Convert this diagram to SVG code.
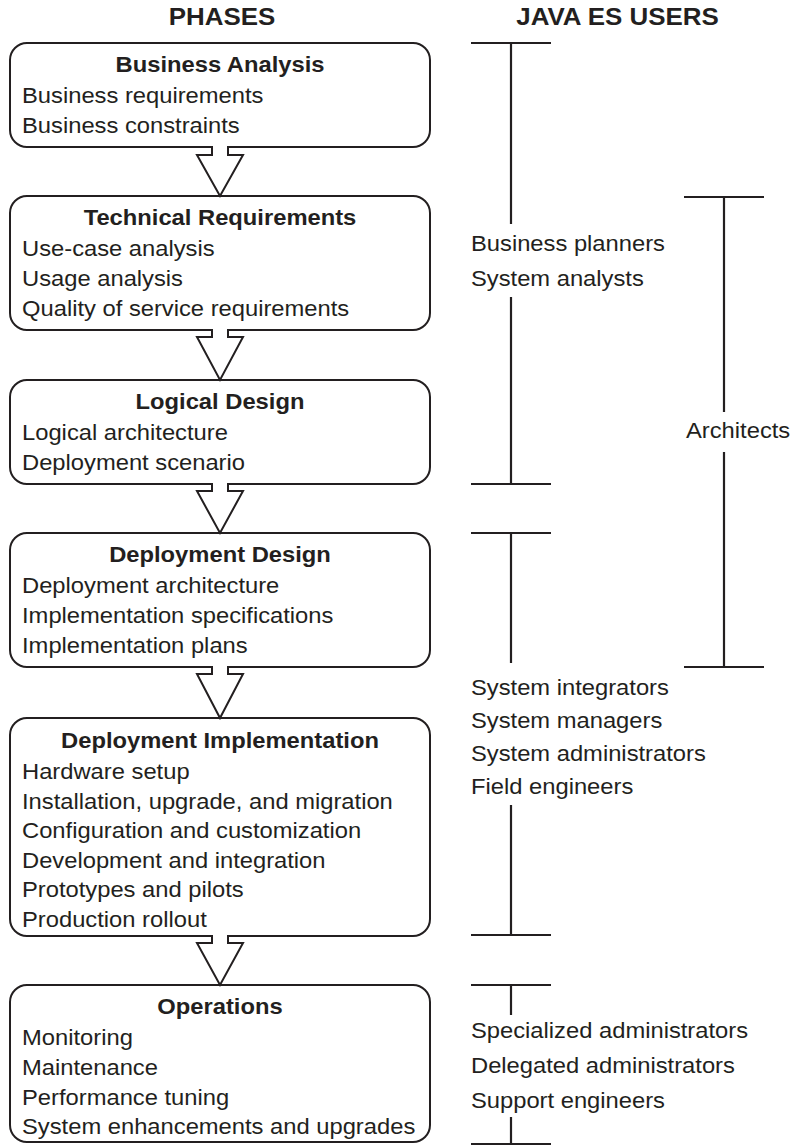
<svg xmlns="http://www.w3.org/2000/svg" width="791" height="1145" viewBox="0 0 791 1145">
<style>
.box{fill:#fff;stroke:#231f20;stroke-width:2}
.arr{fill:#fff;stroke:#231f20;stroke-width:2;stroke-linejoin:miter}
.ln{stroke:#231f20;stroke-width:2.2;fill:none}
.t{font-family:"Liberation Sans",Arial,sans-serif;font-size:22px;fill:#231f20}
.b{font-weight:bold}
.c{text-anchor:middle}
.h{font-family:"Liberation Sans",Arial,sans-serif;font-size:24px;font-weight:bold;fill:#231f20;text-anchor:middle}
</style>
<rect width="791" height="1145" fill="#fff"/>
<g id="headers" transform="scale(1.08 1)">
<text class="h" x="205.6" y="25">PHASES</text>
<text class="h" x="571.8" y="25">JAVA ES USERS</text>
</g>
<g id="business-analysis">
<rect class="box" x="10" y="43" width="420" height="104" rx="17"/>
<g transform="scale(1.08 1)">
<text class="t b c" x="203.7" y="72">Business Analysis</text>
<text class="t" x="20.4" y="103">Business requirements</text>
<text class="t" x="20.4" y="133">Business constraints</text>
</g>
</g>
<g id="technical-requirements">
<rect class="box" x="10" y="196" width="420" height="134" rx="17"/>
<g transform="scale(1.08 1)">
<text class="t b c" x="203.7" y="225">Technical Requirements</text>
<text class="t" x="20.4" y="256">Use-case analysis</text>
<text class="t" x="20.4" y="286">Usage analysis</text>
<text class="t" x="20.4" y="316">Quality of service requirements</text>
</g>
</g>
<g id="logical-design">
<rect class="box" x="10" y="380" width="420" height="104" rx="17"/>
<g transform="scale(1.08 1)">
<text class="t b c" x="203.7" y="409">Logical Design</text>
<text class="t" x="20.4" y="440">Logical architecture</text>
<text class="t" x="20.4" y="470">Deployment scenario</text>
</g>
</g>
<g id="deployment-design">
<rect class="box" x="10" y="533" width="420" height="134" rx="17"/>
<g transform="scale(1.08 1)">
<text class="t b c" x="203.7" y="562">Deployment Design</text>
<text class="t" x="20.4" y="593">Deployment architecture</text>
<text class="t" x="20.4" y="623">Implementation specifications</text>
<text class="t" x="20.4" y="653">Implementation plans</text>
</g>
</g>
<g id="deployment-implementation">
<rect class="box" x="10" y="718" width="420" height="218" rx="17"/>
<g transform="scale(1.08 1)">
<text class="t b c" x="203.7" y="748">Deployment Implementation</text>
<text class="t" x="20.4" y="779">Hardware setup</text>
<text class="t" x="20.4" y="809">Installation, upgrade, and migration</text>
<text class="t" x="20.4" y="838">Configuration and customization</text>
<text class="t" x="20.4" y="868">Development and integration</text>
<text class="t" x="20.4" y="897">Prototypes and pilots</text>
<text class="t" x="20.4" y="927">Production rollout</text>
</g>
</g>
<g id="operations">
<rect class="box" x="10" y="985" width="420" height="157" rx="17"/>
<g transform="scale(1.08 1)">
<text class="t b c" x="203.7" y="1014">Operations</text>
<text class="t" x="20.4" y="1045">Monitoring</text>
<text class="t" x="20.4" y="1075">Maintenance</text>
<text class="t" x="20.4" y="1105">Performance tuning</text>
<text class="t" x="20.4" y="1134">System enhancements and upgrades</text>
</g>
</g>
<g id="connectors">
<path class="arr" d="M212,146 V155 H197 L220,196 L243,155 H228 V146"/>
<path class="arr" d="M212,329 V337 H197 L220,380 L243,337 H228 V329"/>
<path class="arr" d="M212,483 V491 H197 L220,533 L243,491 H228 V483"/>
<path class="arr" d="M212,666 V674 H197 L220,718 L243,674 H228 V666"/>
<path class="arr" d="M212,935 V943 H197 L220,985 L243,943 H228 V935"/>
</g>
<g id="users">
<path class="ln" d="M471,43 H551 M511,43 V224 M511,297 V484 M471,484 H551"/>
<path class="ln" d="M684,197 H764 M724,197 V412 M724,452 V667 M684,667 H764"/>
<path class="ln" d="M471,533 H551 M511,533 V663 M511,805 V935 M471,935 H551"/>
<path class="ln" d="M471,985 H551 M511,985 V1015 M511,1117 V1144 M471,1144 H551"/>
<g transform="scale(1.08 1)">
<text class="t" x="436.1" y="251">Business planners</text>
<text class="t" x="436.1" y="286">System analysts</text>
<text class="t" x="635.2" y="438">Architects</text>
<text class="t" x="436.1" y="695">System integrators</text>
<text class="t" x="436.1" y="728">System managers</text>
<text class="t" x="436.1" y="761">System administrators</text>
<text class="t" x="436.1" y="794">Field engineers</text>
<text class="t" x="436.1" y="1038">Specialized administrators</text>
<text class="t" x="436.1" y="1073">Delegated administrators</text>
<text class="t" x="436.1" y="1108">Support engineers</text>
</g>
</g>
</svg>
